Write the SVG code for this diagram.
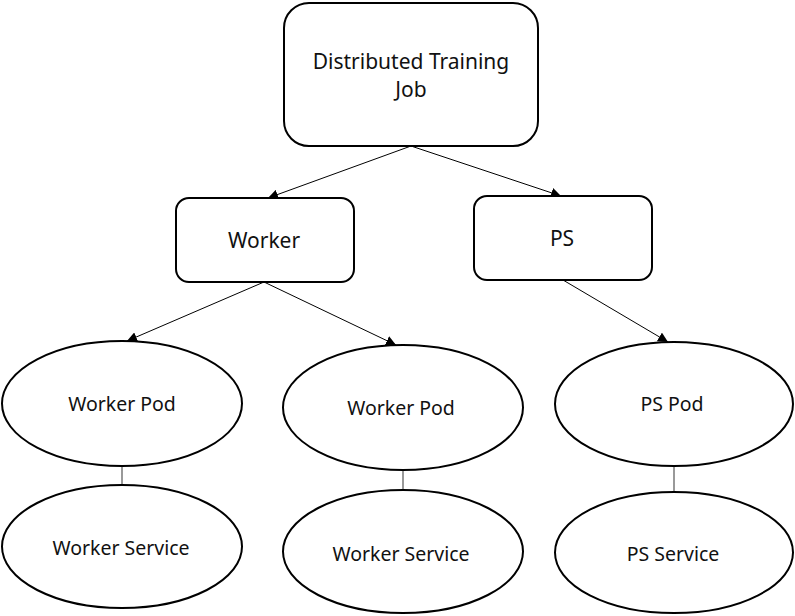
<svg xmlns="http://www.w3.org/2000/svg" width="795" height="616" viewBox="0 0 795 616">
<style>
.n{fill:#fff;stroke:#000;stroke-width:2}
.t{font-family:"Noto Sans","Open Sans",sans-serif;font-size:19.5px;fill:#111;text-anchor:middle}
.big{font-size:21px}
.c{stroke:#000;stroke-width:1;fill:none}
.v{stroke:#555;stroke-width:1.2;fill:none}
</style>
<defs>
<marker id="ah" viewBox="0 0 10 10" refX="10" refY="5" markerWidth="10" markerHeight="10" markerUnits="userSpaceOnUse" orient="auto">
<path d="M0,0 L10,5 L0,10 Z" fill="#000"/>
</marker>
</defs>
<rect width="795" height="616" fill="#fff"/>
<g id="connectors">
<line class="c" x1="411" y1="146" x2="268" y2="198" marker-end="url(#ah)"/>
<line class="c" x1="411" y1="146" x2="561" y2="196" marker-end="url(#ah)"/>
<line class="c" x1="264" y1="282" x2="127" y2="341" marker-end="url(#ah)"/>
<line class="c" x1="264" y1="282" x2="396" y2="345" marker-end="url(#ah)"/>
<line class="c" x1="563" y1="280" x2="668" y2="342" marker-end="url(#ah)"/>
<line class="v" x1="122" y1="466" x2="122" y2="485"/>
<line class="v" x1="403" y1="470" x2="403" y2="490"/>
<line class="v" x1="674" y1="466" x2="674" y2="492"/>
</g>
<g id="job">
<rect class="n" x="284" y="3" width="254" height="143" rx="25"/>
<text class="t big" x="411" y="69">Distributed Training</text>
<text class="t big" x="411" y="97">Job</text>
</g>
<g id="worker">
<rect class="n" x="176" y="198" width="178" height="84" rx="13"/>
<text class="t big" x="264" y="248">Worker</text>
</g>
<g id="ps">
<rect class="n" x="474" y="196" width="178" height="84" rx="13"/>
<text class="t big" x="562" y="246">PS</text>
</g>
<g id="worker-pod-1">
<ellipse class="n" cx="122" cy="403.5" rx="120" ry="62.5"/>
<text class="t" x="122" y="411">Worker Pod</text>
</g>
<g id="worker-service-1">
<ellipse class="n" cx="122" cy="546.5" rx="120" ry="61.5"/>
<text class="t" x="121" y="555">Worker Service</text>
</g>
<g id="worker-pod-2">
<ellipse class="n" cx="403" cy="407.5" rx="120" ry="62.5"/>
<text class="t" x="401" y="415">Worker Pod</text>
</g>
<g id="worker-service-2">
<ellipse class="n" cx="403" cy="551.5" rx="120" ry="61.5"/>
<text class="t" x="401" y="561">Worker Service</text>
</g>
<g id="ps-pod">
<ellipse class="n" cx="674" cy="404" rx="119" ry="62"/>
<text class="t" x="672" y="411">PS Pod</text>
</g>
<g id="ps-service">
<ellipse class="n" cx="674" cy="552.5" rx="119" ry="60.5"/>
<text class="t" x="673" y="561">PS Service</text>
</g>
</svg>
